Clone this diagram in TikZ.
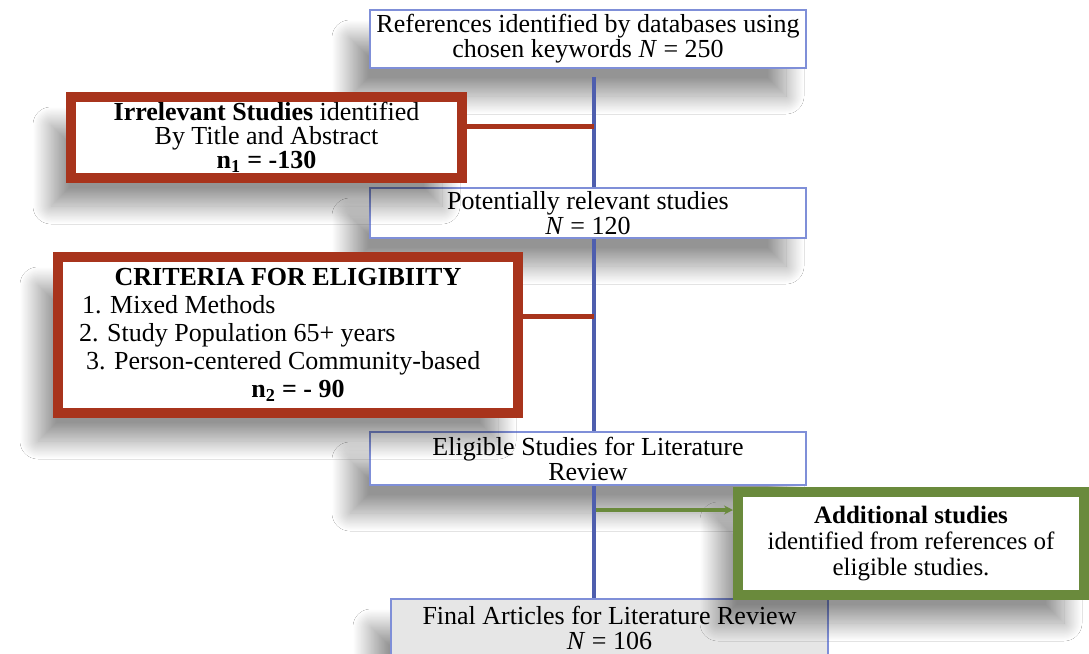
\documentclass[tikz,border=0pt]{standalone}
\usepackage{fontspec}
\setmainfont{Liberation Serif}
\usetikzlibrary{shadows.blur,arrows.meta}
\definecolor{boxblue}{HTML}{7F8FD8}
\definecolor{lineblue}{HTML}{4E5EAE}
\definecolor{brick}{HTML}{A8341C}
\definecolor{olive}{HTML}{6A8A3C}
\definecolor{finalgrey}{HTML}{E6E6E6}
\tikzset{
  every node/.style={font=\fontsize{26}{25}\selectfont, inner sep=0pt},
  softshadow/.style={blur shadow={shadow xshift=-20pt, shadow yshift=-28pt,
      shadow blur radius=18pt, shadow blur steps=40, shadow opacity=42}},
  stepbox/.style={draw=boxblue, line width=2pt, fill=white, align=center,
      minimum width=436pt, softshadow},
  redbox/.style={draw=brick, line width=10pt, fill=white, align=center, softshadow},
  greenbox/.style={draw=olive, line width=10pt, fill=white, align=center, softshadow},
  flow/.style={lineblue, line width=4pt},
  redlink/.style={brick, line width=5pt},
  greenlink/.style={olive, line width=4pt, -{Stealth[length=9pt,width=9pt]}},
}
\begin{document}
\begin{tikzpicture}[x=1pt,y=-1pt]
\useasboundingbox (0,0) rectangle (1089,653);
\fill[white] (0,0) rectangle (1089,653);

% main column
\node[stepbox, minimum height=58pt] (refs) at (588,39)
  {References identified by databases using\\chosen keywords \textit{N} = 250};
\node[stepbox, minimum height=50pt] (pot) at (588,213)
  {Potentially relevant studies\\\textit{N} = 120};
\node[stepbox, minimum height=53pt] (elig) at (588,458.5)
  {Eligible Studies for Literature\\Review};
\node[stepbox, fill=finalgrey, minimum width=437pt, minimum height=58pt] (final) at (609.5,628)
  {Final Articles for Literature Review\\\textit{N} = 106};

% exclusion boxes
\node[redbox, minimum width=391pt, minimum height=81pt, font=\fontsize{26}{24}\selectfont] (irr) at (266.5,137.5)
  {\textbf{Irrelevant Studies} identified\\By Title and Abstract\\\textbf{n\textsubscript{1} = -130}};
\node[redbox, minimum width=460pt, minimum height=156pt, font=\fontsize{26}{28}\selectfont] (crit) at (288,335)
  {\textbf{CRITERIA FOR ELIGIBIITY}\\
   \makebox[430pt][l]{\hspace{9pt}1. Mixed Methods}\\
   \makebox[430pt][l]{\hspace{6pt}2. Study Population 65+ years}\\
   \makebox[430pt][l]{\hspace{13pt}3. Person-centered Community-based}\\
   \hspace{20pt}\textbf{n\textsubscript{2} = - 90}};

% additional studies
\node[greenbox, minimum width=346pt, minimum height=103pt, font=\fontsize{25}{26}\selectfont] (add) at (911,543.5)
  {\textbf{Additional studies}\\identified from references of\\eligible studies.};

% connectors
\coordinate (vtop) at (594,77);
\coordinate (j1) at (594,126);
\coordinate (j2) at (594,316);
\coordinate (j3) at (596,510);
\draw[flow] (vtop) -- (vtop |- pot.north);
\draw[flow] (vtop |- pot.south) -- (vtop |- elig.north);
\draw[flow] (vtop |- elig.south) -- (vtop |- final.north);
\draw[redlink] (j1 -| irr.east) -- (j1);
\draw[redlink] (j2 -| crit.east) -- (j2);
\draw[greenlink] (j3) -- (j3 -| add.west);
\end{tikzpicture}
\end{document}
